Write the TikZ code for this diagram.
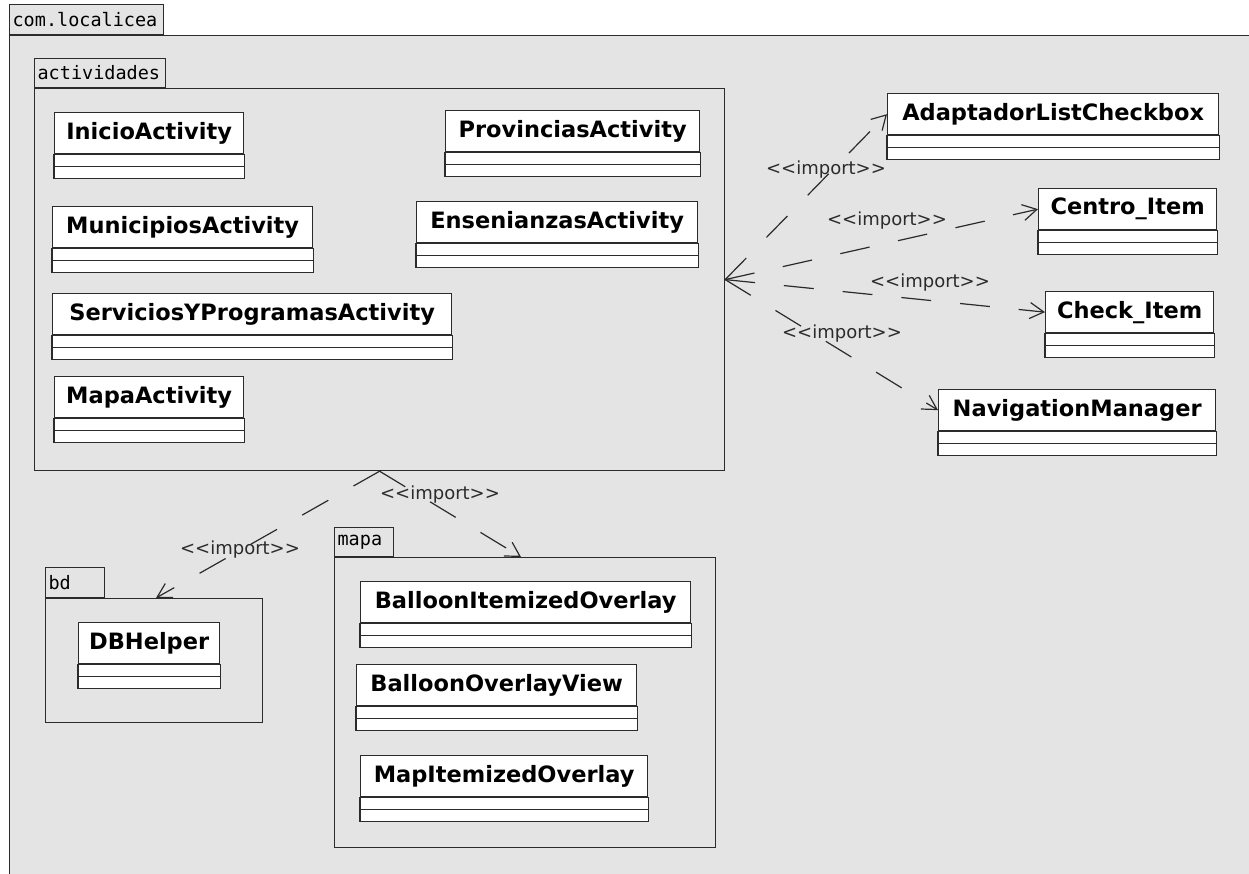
\documentclass[tikz,border=0pt]{standalone}
\usepackage{fontspec}
\setmainfont{DejaVu Sans}
\newfontfamily\monof{DejaVu Sans Mono}
\usetikzlibrary{arrows.meta,calc}
\definecolor{pkg}{HTML}{E4E4E4}
\definecolor{ln}{HTML}{2B2B2B}
\newcommand\umlcls[5]{%
  \node[clsname, minimum width=#4pt] (#1) at (#2,#3) {#5};
  \draw[clsline] (#1.south west) rectangle ($(#1.south east)+(0,12)$);
  \draw[clsline] ($(#1.south west)+(0,12)$) rectangle ($(#1.south east)+(0,24)$);
}
\newcommand\imptxt{<{}<import>{}>}
\begin{document}
\begin{tikzpicture}[x=1pt,y=-1pt,
  pkgbody/.style={draw=ln, line width=1.2pt, fill=pkg, rectangle, inner sep=0pt, anchor=north west},
  pkgtab/.style={pkgbody, inner xsep=3pt, inner ysep=0pt, align=left,
     font=\monof\fontsize{18.5}{19}\selectfont, text=black},
  clsname/.style={draw=ln, fill=white, line width=1.3pt, rectangle, inner sep=0pt,
     minimum height=41pt, anchor=north west, font=\bfseries\fontsize{22.5}{22.5}\selectfont},
  clsline/.style={draw=ln, fill=white, line width=1.3pt},
  imp/.style={draw=ln, line width=1.2pt, dash pattern=on 30pt off 29pt,
     -{Straight Barb[length=14pt,width=16pt]}},
  lbl/.style={font=\fontsize{18}{18}\selectfont, text=ln, inner sep=0pt}]
\useasboundingbox (0,0) rectangle (1249,874);
\clip (0,0) rectangle (1249,874);
\fill[white] (0,0) rectangle (1249,874);
% outer package
\node[pkgbody, minimum width=1270pt, minimum height=860pt] (root) at (9,35) {};
\node[pkgtab, anchor=south west, text width=148pt, minimum height=30pt] (rootTab) at (9,35) {com.localicea};
% actividades
\node[pkgbody, minimum width=690pt, minimum height=382pt] (actividades) at (34,88) {};
\node[pkgtab, anchor=south west, text width=125pt, minimum height=29pt] (actTab) at (34,88) {actividades};
% bd
\node[pkgbody, minimum width=217pt, minimum height=124pt] (bd) at (45,598) {};
\node[pkgtab, anchor=south west, text width=53pt, minimum height=30pt] (bdTab) at (45,598) {bd};
% mapa
\node[pkgbody, minimum width=381pt, minimum height=290pt] (mapa) at (334,557) {};
\node[pkgtab, anchor=south west, text width=53pt, minimum height=29pt] (mapaTab) at (334,557) {mapa};
% classes in actividades
\umlcls{inicio}{54}{112}{189}{InicioActivity}
\umlcls{provincias}{445}{110}{254}{ProvinciasActivity}
\umlcls{municipios}{52}{206}{260}{MunicipiosActivity}
\umlcls{ensenianzas}{416}{201}{281}{EnsenianzasActivity}
\umlcls{servicios}{52}{293}{399}{ServiciosYProgramasActivity}
\umlcls{mapaact}{54}{376}{189}{MapaActivity}
% right classes
\umlcls{adaptador}{887}{93}{331}{AdaptadorListCheckbox}
\umlcls{centro}{1038}{188}{178}{Centro\_Item}
\umlcls{check}{1045}{291}{168}{Check\_Item}
\umlcls{navigation}{938}{389}{277}{NavigationManager}
% bd / mapa classes
\umlcls{dbhelper}{78}{622}{141}{DBHelper}
\umlcls{balloonItem}{360}{581}{330}{BalloonItemizedOverlay}
\umlcls{balloonView}{356}{664}{280}{BalloonOverlayView}
\umlcls{mapItem}{360}{755}{287}{MapItemizedOverlay}
% connectors
\coordinate (mapaIn) at ($(mapa.north west)+(187,0)$);
\coordinate (bdIn) at ($(bd.north west)+(111,0)$);
\draw[imp] (actividades.east) -- (adaptador.west);
\draw[imp] (actividades.east) -- (centro.west);
\draw[imp] (actividades.east) -- (check.west);
\draw[imp] (actividades.east) -- (navigation.west);
\draw[imp] (actividades.south) -- (mapaIn);
\draw[imp] (actividades.south) -- (bdIn);
% labels
\node[lbl] (l1) at (826,170) {\imptxt};
\node[lbl] (l2) at (887,221) {\imptxt};
\node[lbl] (l3) at (930,283) {\imptxt};
\node[lbl] (l4) at (842,334) {\imptxt};
\node[lbl] (l5) at (440,495) {\imptxt};
\node[lbl] (l6) at (240,550) {\imptxt};
\end{tikzpicture}
\end{document}
